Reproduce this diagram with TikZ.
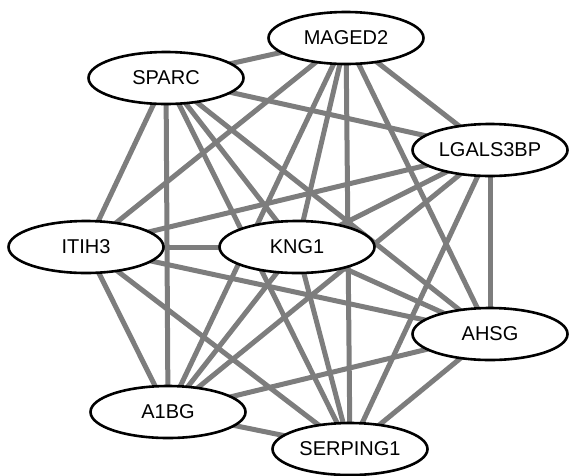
\documentclass[tikz,border=0pt]{standalone}
\usepackage{fontspec}
\setmainfont{Liberation Sans}
\usetikzlibrary{shapes.geometric,backgrounds}
\definecolor{edgegray}{RGB}{125,125,125}
\begin{document}
\begin{tikzpicture}[x=1pt,y=-1pt,
  protein/.style={ellipse, draw=black, line width=2.6pt, fill=white,
    minimum width=155pt, minimum height=52pt, inner sep=0pt,
    font=\fontsize{20}{24}\selectfont},
  link/.style={draw=edgegray, line width=5pt}]
  \useasboundingbox (0,0) rectangle (569,475);

  % proteins
  \node[protein] (maged2)   at (346,38)  {MAGED2};
  \node[protein] (sparc)    at (166,78)  {SPARC};
  \node[protein] (lgals3bp) at (490,150) {LGALS3BP};
  \node[protein] (itih3)    at (86,247)  {ITIH3};
  \node[protein] (kng1)     at (297,247) {KNG1};
  \node[protein] (ahsg)     at (490,334) {AHSG};
  \node[protein] (a1bg)     at (168,412) {A1BG};
  \node[protein] (serping1) at (350,449) {SERPING1};

  % every pair of proteins interacts
  \begin{pgfonlayer}{background}
    \foreach \a/\b in {maged2/sparc, maged2/lgals3bp, maged2/itih3, maged2/kng1,
                       maged2/ahsg, maged2/a1bg, maged2/serping1,
                       sparc/lgals3bp, sparc/itih3, sparc/kng1, sparc/ahsg,
                       sparc/a1bg, sparc/serping1,
                       lgals3bp/itih3, lgals3bp/kng1, lgals3bp/ahsg,
                       lgals3bp/a1bg, lgals3bp/serping1,
                       itih3/kng1, itih3/ahsg, itih3/a1bg, itih3/serping1,
                       kng1/ahsg, kng1/a1bg, kng1/serping1,
                       ahsg/a1bg, ahsg/serping1,
                       a1bg/serping1}
      \draw[link] (\a.center) -- (\b.center);
  \end{pgfonlayer}
\end{tikzpicture}
\end{document}
